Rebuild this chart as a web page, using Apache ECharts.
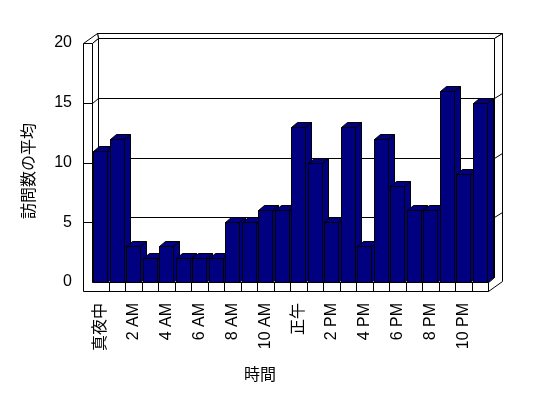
<!DOCTYPE html>
<html>
<head>
<meta charset="utf-8">
<script src="https://cdn.jsdelivr.net/npm/echarts@6/dist/echarts.min.js"></script>
<style>html,body{margin:0;padding:0;background:#fff}#c{width:548px;height:398px}</style>
</head>
<body>
<div id="c"></div>
<script>
var categories = ['真夜中','1 AM','2 AM','3 AM','4 AM','5 AM','6 AM','7 AM','8 AM','9 AM','10 AM','11 AM',
                  '正午','1 PM','2 PM','3 PM','4 PM','5 PM','6 PM','7 PM','8 PM','9 PM','10 PM','11 PM'];
var visits = [11,12,3,2,3,2,2,2,5,5,6,6,13,10,5,13,3,12,8,6,6,16,9,15];
var yTicks = [0,5,10,15,20];
var yTitle = '訪問数の平均';
var xTitle = '時間';

var FONT = "'Liberation Sans', 'Noto Sans CJK JP', sans-serif";
var DI = [6,-5], DO = [13.5,-10], WALL = 9, FLOOR = 9;
var LS = {fill:'#fff', stroke:'#000', lineWidth:1};
function p(v){ return Math.round(v) + 0.5; }
function poly(pts, style){
  return {type:'polygon', shape:{points:pts.map(function(q){return [p(q[0]),p(q[1])];})}, style:style};
}
function line(pts){
  return {type:'polyline', shape:{points:pts.map(function(q){return [p(q[0]),p(q[1])];})}, style:{stroke:'#000',fill:null,lineWidth:1}};
}

function renderWalls(params, api){
  var s = api.size([1,0])[0];
  var c0 = api.coord([0,0]);
  var x0 = c0[0] - s/2, x1 = x0 + categories.length*s;
  var yb = c0[1], yt = api.coord([0, yTicks[yTicks.length-1]])[1];
  var L = x0 - WALL, Fb = yb + FLOOR;
  var ch = [];
  ch.push(poly([[x0+DI[0],yt+DI[1]],[x1+DI[0],yt+DI[1]],[x1+DI[0],yb+DI[1]],[x0+DI[0],yb+DI[1]]], LS));
  ch.push(poly([[L+DO[0],yt+DO[1]],[x1+DO[0],yt+DO[1]],[x1+DI[0],yt+DI[1]],[x0+DI[0],yt+DI[1]]], LS));
  ch.push(poly([[x1+DI[0],yt+DI[1]],[x1+DO[0],yt+DO[1]],[x1+DO[0],Fb+DO[1]],[x1,Fb],[x1,yb],[x1+DI[0],yb+DI[1]]], LS));
  ch.push(poly([[L,yt],[x0,yt],[x0+DI[0],yt+DI[1]],[L+DO[0],yt+DO[1]]], LS));
  ch.push(poly([[x0,yt],[x0+DI[0],yt+DI[1]],[x0+DI[0],yb+DI[1]],[x0,yb]], LS));
  ch.push(poly([[x0,yb],[x1,yb],[x1+DI[0],yb+DI[1]],[x0+DI[0],yb+DI[1]]], LS));
  ch.push(poly([[L,yt],[x0,yt],[x0,yb],[x1,yb],[x1,Fb],[L,Fb]], LS));
  for (var k=1;k<categories.length;k++){
    ch.push(line([[x0+k*s,yb],[x0+k*s,Fb]]));
  }
  for (var i=1;i<yTicks.length-1;i++){
    var y = api.coord([0,yTicks[i]])[1];
    ch.push(line([[L,y],[x0,y],[x0+DI[0],y+DI[1]],[x1+DI[0],y+DI[1]],[x1+DO[0],y+DO[1]]]));
  }
  return {type:'group', children:ch};
}

function renderBar(params, api){
  var idx = api.value(0), v = api.value(1);
  var top = api.coord([idx, v]), bot = api.coord([idx, 0]);
  var x = top[0] - 7, w = 14, yT = top[1], yB = bot[1];
  var st = {fill:'#000080', stroke:'#000', lineWidth:1};
  return {type:'group', children:[
    poly([[x+w,yT],[x+w+DI[0],yT+DI[1]],[x+w+DI[0],yB+DI[1]],[x+w,yB]], st),
    poly([[x,yT],[x+w,yT],[x+w+DI[0],yT+DI[1]],[x+DI[0],yT+DI[1]]], st),
    poly([[x,yT],[x+w,yT],[x+w,yB],[x,yB]], st)
  ]};
}

var chart = echarts.init(document.getElementById('c'), null, {renderer:'canvas'});
chart.setOption({
  animation:false,
  backgroundColor:'#fff',
  grid:{left:92, right:60, top:43, bottom:116},
  xAxis:{type:'category', data:categories,
    axisLine:{show:false}, axisTick:{show:false}, splitLine:{show:false},
    axisLabel:{interval:1, rotate:90, margin:21, color:'#000', fontSize:16, fontFamily:FONT}},
  yAxis:{type:'value', min:0, max:20, interval:5,
    axisLine:{show:false}, axisTick:{show:false}, splitLine:{show:false},
    axisLabel:{margin:20, color:'#000', fontSize:16, fontFamily:FONT}},
  graphic:[
    {type:'text', x:30, y:171, rotation:Math.PI/2, style:{text:yTitle, fill:'#000', font:'16px '+FONT, align:'center', verticalAlign:'middle'}},
    {type:'text', x:260, y:376, style:{text:xTitle, fill:'#000', font:'16px '+FONT, align:'center', verticalAlign:'middle'}}
  ],
  series:[
    {type:'custom', renderItem:renderWalls, data:[[0,0]], z:1, silent:true},
    {type:'custom', renderItem:renderBar, data:visits.map(function(v,i){return [i,v];}), z:2, silent:true}
  ]
});
</script>
</body>
</html>
